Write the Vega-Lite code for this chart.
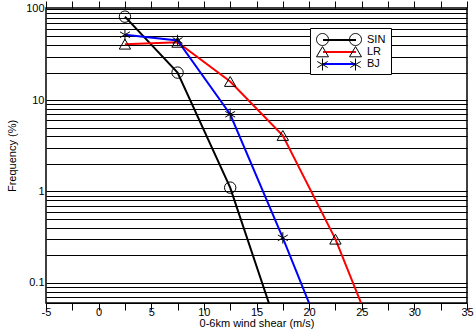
{
  "$schema": "https://vega.github.io/schema/vega-lite/v6.json",
  "width": 421,
  "height": 295,
  "autosize": "none",
  "padding": {"left": 46, "top": 8, "right": 8, "bottom": 30},
  "background": "white",
  "config": {
    "font": "Liberation Sans",
    "view": {"stroke": "black", "strokeWidth": 1.5},
    "axis": {
      "labelFont": "Liberation Sans",
      "titleFont": "Liberation Sans",
      "labelFontSize": 11,
      "titleFontSize": 11,
      "titleFontWeight": "normal",
      "labelColor": "black",
      "titleColor": "black",
      "domain": false,
      "tickColor": "black"
    },
    "legend": {
      "orient": "none",
      "legendX": 264,
      "title": null,
      "symbolSize": 144,
      "symbolOffset": 17.5,
      "symbolFillColor": "transparent",
      "symbolOpacity": 1,
      "labelFont": "Liberation Sans",
      "labelFontSize": 11,
      "labelColor": "black",
      "labelOffset": 20.5,
      "padding": 5,
      "rowPadding": -3.5
    }
  },
  "data": {
    "values": [
      {"series": "SIN", "ws": 2.5, "freq": 82},
      {"series": "SIN", "ws": 7.5, "freq": 20},
      {"series": "SIN", "ws": 12.5, "freq": 1.1},
      {"series": "SIN", "ws": 17.5, "freq": 0.021},
      {"series": "LR", "ws": 2.5, "freq": 41},
      {"series": "LR", "ws": 7.5, "freq": 43},
      {"series": "LR", "ws": 12.5, "freq": 16},
      {"series": "LR", "ws": 17.5, "freq": 4.1},
      {"series": "LR", "ws": 22.5, "freq": 0.3},
      {"series": "LR", "ws": 27.5, "freq": 0.011},
      {"series": "BJ", "ws": 2.5, "freq": 52},
      {"series": "BJ", "ws": 7.5, "freq": 45},
      {"series": "BJ", "ws": 12.5, "freq": 7.0},
      {"series": "BJ", "ws": 17.5, "freq": 0.31},
      {"series": "BJ", "ws": 22.5, "freq": 0.0115}
    ]
  },
  "layer": [
    {
      "mark": {"type": "line", "clip": true, "strokeWidth": 2},
      "encoding": {
        "x": {
          "field": "ws", "type": "quantitative",
          "scale": {"domain": [-5, 35], "nice": false, "zero": false},
          "axis": {
            "orient": "bottom",
            "values": [-5, -2.5, 0, 2.5, 5, 7.5, 10, 12.5, 15, 17.5, 20, 22.5, 25, 27.5, 30, 32.5, 35],
            "labelExpr": "datum.value % 5 === 0 ? toString(datum.value) : ''",
            "title": "0-6km wind shear (m/s)",
            "grid": false,
            "tickSize": 7,
            "labelPadding": -4,
            "titlePadding": 0,
            "labelFlush": false,
            "encode": {"ticks": {"y2": {"value": {"expr": "datum.value % 5 === 0 ? -7 : -4"}}}}
          }
        },
        "y": {
          "field": "freq", "type": "quantitative",
          "scale": {"type": "log", "domain": [0.06, 102], "nice": false},
          "axis": {
            "values": [0.06, 0.07, 0.08, 0.09, 0.1, 0.2, 0.3, 0.4, 0.5, 0.6, 0.7, 0.8, 0.9, 1, 2, 3, 4, 5, 6, 7, 8, 9, 10, 20, 30, 40, 50, 60, 70, 80, 90, 100],
            "labelExpr": "datum.value === 100 ? '100' : datum.value === 10 ? '10' : datum.value === 1 ? '1' : datum.value === 0.1 ? '0.1' : ''",
            "title": "Frequency (%)",
            "grid": true,
            "gridColor": "black",
            "gridOpacity": 1,
            "gridWidth": 1,
            "ticks": false,
            "labelPadding": 2,
            "titlePadding": 8,
            "labelFlush": false
          }
        },
        "color": {
          "field": "series", "type": "nominal",
          "scale": {"domain": ["SIN", "LR", "BJ"], "range": ["#000000", "#ff0000", "#0000ff"]},
          "legend": {
            "legendY": 20,
            "symbolType": "M-2.75,0L2.75,0",
            "symbolStrokeWidth": 2,
            "strokeColor": "black",
            "fillColor": "white"
          }
        }
      }
    },
    {
      "mark": {"type": "point", "clip": true, "filled": false, "strokeWidth": 1, "size": 130, "opacity": 1},
      "encoding": {
        "x": {
          "field": "ws", "type": "quantitative",
          "axis": {
            "orient": "top",
            "values": [-5, -2.5, 0, 2.5, 5, 7.5, 10, 12.5, 15, 17.5, 20, 22.5, 25, 27.5, 30, 32.5, 35],
            "labels": false,
            "title": null,
            "grid": false,
            "tickSize": 7,
            "encode": {"ticks": {"y2": {"value": {"expr": "datum.value % 5 === 0 ? 7 : 4"}}}}
          }
        },
        "y": {"field": "freq", "type": "quantitative"},
        "shape": {
          "field": "series", "type": "nominal",
          "sort": ["SIN", "LR", "BJ"],
          "scale": {"range": ["circle", "triangle-up", "M0,-1L0,1M-0.87,-0.5L0.87,0.5M-0.87,0.5L0.87,-0.5"]},
          "legend": null
        },
        "stroke": {
          "field": "series", "type": "nominal",
          "sort": ["LR", "SIN", "BJ"],
          "scale": {"range": ["#000000", "#000000", "#000000"]},
          "legend": {
            "legendY": 20,
            "values": ["SIN"],
            "labelExpr": "''",
            "symbolStrokeWidth": 1,
            "symbolStrokeColor": "black",
            "symbolType": "M-3.75,0C-3.75,-0.5523 -3.3023,-1 -2.75,-1C-2.1977,-1 -1.75,-0.5523 -1.75,0C-1.75,0.5523 -2.1977,1 -2.75,1C-3.3023,1 -3.75,0.5523 -3.75,0ZM1.75,0C1.75,-0.5523 2.1977,-1 2.75,-1C3.3023,-1 3.75,-0.5523 3.75,0C3.75,0.5523 3.3023,1 2.75,1C2.1977,1 1.75,0.5523 1.75,0Z"
          }
        },
        "strokeWidth": {
          "field": "series", "type": "ordinal",
          "sort": ["BJ", "LR", "SIN"],
          "scale": {"type": "ordinal", "range": [1, 1, 1]},
          "legend": {
            "legendY": 32.5,
            "values": ["LR"],
            "labelExpr": "''",
            "symbolStrokeColor": "black",
            "symbolType": "M-2.75,-0.9L-1.75,0.8L-3.75,0.8ZM2.75,-0.9L3.75,0.8L1.75,0.8Z"
          }
        },
        "opacity": {
          "field": "series", "type": "ordinal",
          "sort": ["SIN", "BJ", "LR"],
          "scale": {"type": "ordinal", "range": [1, 1, 1]},
          "legend": {
            "legendY": 45,
            "values": ["BJ"],
            "labelExpr": "''",
            "symbolStrokeWidth": 1,
            "symbolStrokeColor": "black",
            "symbolType": "M-2.75,-1L-2.75,1M-3.616,-0.5L-1.884,0.5M-3.616,0.5L-1.884,-0.5M2.75,-1L2.75,1M1.884,-0.5L3.616,0.5M1.884,0.5L3.616,-0.5"
          }
        }
      }
    }
  ],
  "resolve": {"axis": {"x": "independent"}}
}
